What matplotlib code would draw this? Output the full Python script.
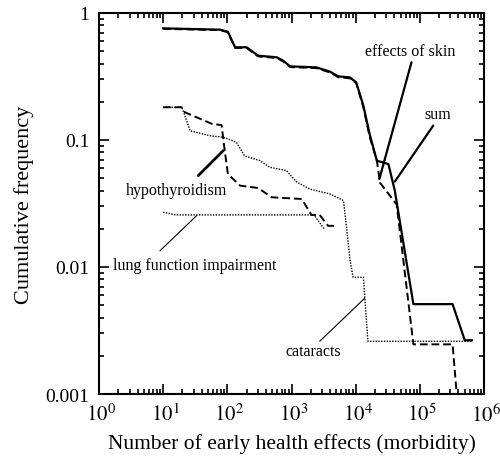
import matplotlib
matplotlib.use("Agg")
import matplotlib.pyplot as plt
import matplotlib.transforms as mtransforms
from matplotlib.ticker import LogLocator, NullFormatter, FixedLocator

plt.rcParams['font.family'] = ['Liberation Serif', 'DejaVu Serif']
plt.rcParams['mathtext.fontset'] = 'stix'

# Data
sum_x = [10, 77, 102, 132, 200, 302, 589, 741, 955, 2450, 3980, 5370, 8130,
         10200, 13200, 16600, 21400, 32400, 40700, 79400, 324000, 501000, 646000]
sum_y = [0.757, 0.739, 0.712, 0.537, 0.537, 0.461, 0.448, 0.421, 0.38, 0.373,
         0.345, 0.317, 0.311, 0.284, 0.186, 0.11, 0.0687, 0.0646, 0.040,
         0.0051, 0.0051, 0.00265, 0.00265]

skin_x = [10, 77, 102, 132, 200, 302, 589, 741, 955, 2450, 3980, 5370, 8130,
          10200, 13200, 16600, 21400, 24000, 43600, 79400, 324000, 398000]
skin_y = [0.750, 0.733, 0.705, 0.530, 0.530, 0.455, 0.442, 0.415, 0.375, 0.368,
          0.340, 0.312, 0.306, 0.280, 0.18, 0.105, 0.0687, 0.046, 0.031,
          0.00246, 0.00246, 0.0007]

hypo_x = [10, 19.5, 21.9, 33.1, 57.5, 81.3, 91.2, 102, 158, 302, 490, 1450,
          2040, 2750, 3720, 4790]
hypo_y = [0.181, 0.181, 0.165, 0.151, 0.134, 0.131, 0.082, 0.054, 0.0437,
          0.0419, 0.0354, 0.0343, 0.0257, 0.0257, 0.0211, 0.0211]

cat_x = [10, 19.5, 21.9, 26.3, 53.7, 87.1, 138, 186, 324, 457, 832, 1200, 1950,
         3980, 6460, 7240, 8130, 9120, 13200, 15500, 646000]
cat_y = [0.181, 0.181, 0.155, 0.118, 0.108, 0.105, 0.096, 0.075, 0.0687, 0.061,
         0.0574, 0.0467, 0.041, 0.0376, 0.0333, 0.020, 0.0115, 0.0083, 0.0083,
         0.0026, 0.0026]

lung_x = [10, 15.8, 2240, 3240]
lung_y = [0.027, 0.0257, 0.0257, 0.0199]

x_ticks = [1, 10, 100, 1000, 1e4, 1e5, 1e6]
x_labels = ['$10^{0}$', '$10^{1}$', '$10^{2}$', '$10^{3}$', '$10^{4}$', '$10^{5}$', '$10^{6}$']
y_ticks = [0.001, 0.01, 0.1, 1]
y_labels = ['0.001', '0.01', '0.1', '1']

fig = plt.figure(figsize=(5, 4.6), dpi=100)
ax = fig.add_axes([0.198, 0.1413, 0.77, 0.8283])

ax.plot(sum_x, sum_y, color='black', lw=1.6, ls='-')
ax.plot(skin_x, skin_y, color='black', lw=1.4, ls=(0, (4, 2)))
ax.plot(hypo_x, hypo_y, color='black', lw=1.4, ls=(0, (4, 2)))
ax.plot(cat_x, cat_y, color='black', lw=1.0, ls=(0, (1, 1)))
ax.plot(lung_x, lung_y, color='black', lw=1.0, ls=(0, (1, 1)))

ax.set_xscale('log')
ax.set_yscale('log')
ax.set_xlim(1, 1e6)
ax.set_ylim(0.001, 1)

ax.xaxis.set_major_locator(FixedLocator(x_ticks))
ax.set_xticklabels(x_labels)
ax.yaxis.set_major_locator(FixedLocator(y_ticks))
ax.set_yticklabels(y_labels)
ax.xaxis.set_minor_locator(LogLocator(base=10, subs=range(2, 10), numticks=20))
ax.yaxis.set_minor_locator(LogLocator(base=10, subs=range(2, 10), numticks=20))
ax.xaxis.set_minor_formatter(NullFormatter())
ax.yaxis.set_minor_formatter(NullFormatter())

ax.tick_params(which='both', direction='in', top=True, right=True, width=1.2)
ax.tick_params(which='major', length=7, pad=7)
ax.tick_params(axis='y', which='major', labelsize=14)
ax.tick_params(axis='x', which='major', labelsize=15)
ax.tick_params(which='minor', length=3.5)
shift = mtransforms.ScaledTranslation(2 / 100, 0, fig.dpi_scale_trans)
for lab in ax.get_xticklabels():
    lab.set_transform(lab.get_transform() + shift)
for s in ax.spines.values():
    s.set_linewidth(1.5)

ax.set_xlabel('Number of early health effects (morbidity)', fontsize=15.5, labelpad=5)
ax.set_ylabel('Cumulative frequency', fontsize=16, labelpad=8)

fs = 11.5
line_kw = dict(arrowstyle='-', color='black', shrinkA=0, shrinkB=0)

# effects of skin
ax.text(69600, 0.505, 'effects of skin', fontsize=fs, ha='center', va='center')
ax.annotate('', xy=(23400, 0.0493), xytext=(74100, 0.409),
            arrowprops=dict(lw=1.6, **line_kw))
# sum
ax.text(193000, 0.160, 'sum', fontsize=fs, ha='center', va='center')
ax.annotate('', xy=(40700, 0.047), xytext=(162000, 0.130),
            arrowprops=dict(lw=1.6, **line_kw))
# hypothyroidism
ax.text(16.2, 0.0404, 'hypothyroidism', fontsize=fs, ha='center', va='center')
ax.annotate('', xy=(86.3, 0.0824), xytext=(35.2, 0.0524),
            arrowprops=dict(lw=2.0, **line_kw))
# lung function impairment
ax.text(31.3, 0.0104, 'lung function impairment', fontsize=fs, ha='center', va='center')
ax.annotate('', xy=(33.3, 0.0254), xytext=(8.9, 0.0134),
            arrowprops=dict(lw=0.8, **line_kw))
# cataracts
ax.text(2190, 0.00217, 'cataracts', fontsize=fs, ha='center', va='center')
ax.annotate('', xy=(13800, 0.00567), xytext=(2750, 0.0026),
            arrowprops=dict(lw=0.8, **line_kw))

fig.savefig('out.png', dpi=100)
